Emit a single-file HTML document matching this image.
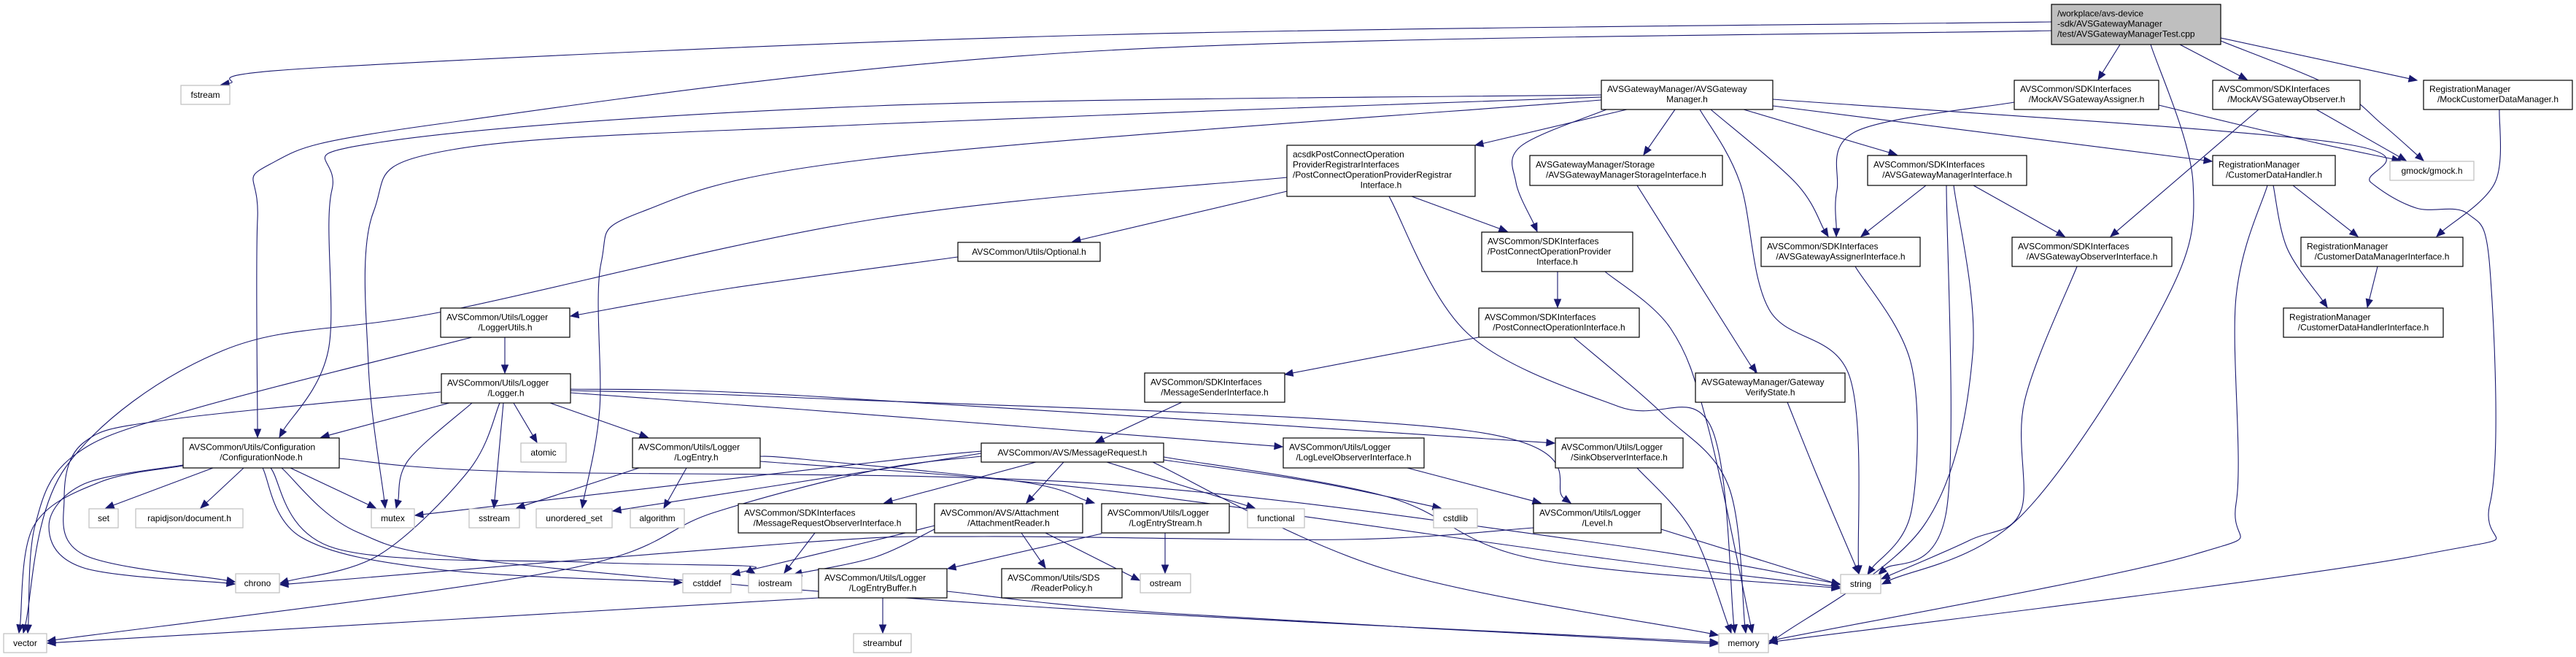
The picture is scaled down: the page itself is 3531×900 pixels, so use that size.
<!DOCTYPE html>
<html><head><meta charset="utf-8">
<style>
html,body{margin:0;padding:0;background:#fff;}
svg{display:block;}
text{font-family:"Liberation Sans",Arial,sans-serif;font-size:12px;fill:#000;}
.n rect{fill:#fff;stroke:#000;stroke-width:1.2;}
.g rect{fill:#fff;stroke:#bfbfbf;stroke-width:1.2;}
.t rect{fill:#bfbfbf;stroke:#000;stroke-width:1.2;}
</style></head>
<body>
<svg id="s" width="3531" height="900" viewBox="0 0 3531 900" xmlns="http://www.w3.org/2000/svg">
<g id="edges" fill="none" stroke="#191970" stroke-width="1.1"></g>
<g id="heads" fill="#191970" stroke="#191970" stroke-width="1"></g>
<g id="nodes">
<g class="t"><rect x="2812" y="6" width="232" height="55"/><text x="2820" y="22.5">/workplace/avs-device</text><text x="2820" y="36.5">-sdk/AVSGatewayManager</text><text x="2820" y="50.5">/test/AVSGatewayManagerTest.cpp</text></g>
<g class="g"><rect x="248" y="117" width="67" height="26"/><text x="281.5" y="134" text-anchor="middle">fstream</text></g>
<g class="n"><rect x="2195" y="110" width="235" height="40"/><text x="2203" y="126">AVSGatewayManager/AVSGateway</text><text x="2312.5" y="140" text-anchor="middle">Manager.h</text></g>
<g class="n"><rect x="2761" y="110" width="198" height="40"/><text x="2769" y="126">AVSCommon/SDKInterfaces</text><text x="2860" y="140" text-anchor="middle">/MockAVSGatewayAssigner.h</text></g>
<g class="n"><rect x="3033" y="110" width="202" height="40"/><text x="3041" y="126">AVSCommon/SDKInterfaces</text><text x="3134" y="140" text-anchor="middle">/MockAVSGatewayObserver.h</text></g>
<g class="n"><rect x="3322" y="110" width="204" height="40"/><text x="3330" y="126">RegistrationManager</text><text x="3424" y="140" text-anchor="middle">/MockCustomerDataManager.h</text></g>
<g class="n"><rect x="1764" y="199" width="258" height="70"/><text x="1772" y="215.5">acsdkPostConnectOperation</text><text x="1772" y="229.5">ProviderRegistrarInterfaces</text><text x="1772" y="243.5">/PostConnectOperationProviderRegistrar</text><text x="1893" y="257.5" text-anchor="middle">Interface.h</text></g>
<g class="n"><rect x="2097" y="213" width="264" height="41"/><text x="2105" y="229.5">AVSGatewayManager/Storage</text><text x="2229" y="243.5" text-anchor="middle">/AVSGatewayManagerStorageInterface.h</text></g>
<g class="n"><rect x="2560" y="213" width="218" height="41"/><text x="2568" y="229.5">AVSCommon/SDKInterfaces</text><text x="2669" y="243.5" text-anchor="middle">/AVSGatewayManagerInterface.h</text></g>
<g class="n"><rect x="3033" y="213" width="168" height="41"/><text x="3041" y="229.5">RegistrationManager</text><text x="3117" y="243.5" text-anchor="middle">/CustomerDataHandler.h</text></g>
<g class="g"><rect x="3276" y="221" width="115" height="26"/><text x="3333.5" y="238" text-anchor="middle">gmock/gmock.h</text></g>
<g class="n"><rect x="1313" y="332" width="195" height="26"/><text x="1410.5" y="349" text-anchor="middle">AVSCommon/Utils/Optional.h</text></g>
<g class="n"><rect x="2031" y="318" width="207" height="54"/><text x="2039" y="334.5">AVSCommon/SDKInterfaces</text><text x="2039" y="348.5">/PostConnectOperationProvider</text><text x="2134.5" y="362.5" text-anchor="middle">Interface.h</text></g>
<g class="n"><rect x="2414" y="325" width="218" height="40"/><text x="2422" y="341.5">AVSCommon/SDKInterfaces</text><text x="2523" y="355.5" text-anchor="middle">/AVSGatewayAssignerInterface.h</text></g>
<g class="n"><rect x="2758" y="325" width="219" height="40"/><text x="2766" y="341.5">AVSCommon/SDKInterfaces</text><text x="2867.5" y="355.5" text-anchor="middle">/AVSGatewayObserverInterface.h</text></g>
<g class="n"><rect x="3154" y="325" width="222" height="40"/><text x="3162" y="341.5">RegistrationManager</text><text x="3265" y="355.5" text-anchor="middle">/CustomerDataManagerInterface.h</text></g>
<g class="n"><rect x="604" y="422" width="177" height="40"/><text x="612" y="438.5">AVSCommon/Utils/Logger</text><text x="692.5" y="452.5" text-anchor="middle">/LoggerUtils.h</text></g>
<g class="n"><rect x="2027" y="422" width="220" height="40"/><text x="2035" y="438.5">AVSCommon/SDKInterfaces</text><text x="2137" y="452.5" text-anchor="middle">/PostConnectOperationInterface.h</text></g>
<g class="n"><rect x="3130" y="422" width="219" height="40"/><text x="3138" y="438.5">RegistrationManager</text><text x="3239.5" y="452.5" text-anchor="middle">/CustomerDataHandlerInterface.h</text></g>
<g class="n"><rect x="605" y="512" width="177" height="40"/><text x="613" y="528.5">AVSCommon/Utils/Logger</text><text x="693.5" y="542.5" text-anchor="middle">/Logger.h</text></g>
<g class="n"><rect x="1569" y="511" width="192" height="40"/><text x="1577" y="527.5">AVSCommon/SDKInterfaces</text><text x="1665" y="541.5" text-anchor="middle">/MessageSenderInterface.h</text></g>
<g class="n"><rect x="2324" y="511" width="205" height="40"/><text x="2332" y="527.5">AVSGatewayManager/Gateway</text><text x="2426.5" y="541.5" text-anchor="middle">VerifyState.h</text></g>
<g class="n"><rect x="251" y="600" width="214" height="41"/><text x="259" y="616.5">AVSCommon/Utils/Configuration</text><text x="358" y="630.5" text-anchor="middle">/ConfigurationNode.h</text></g>
<g class="g"><rect x="714" y="607" width="62" height="26"/><text x="745" y="624" text-anchor="middle">atomic</text></g>
<g class="n"><rect x="867" y="600" width="175" height="41"/><text x="875" y="616.5">AVSCommon/Utils/Logger</text><text x="954.5" y="630.5" text-anchor="middle">/LogEntry.h</text></g>
<g class="n"><rect x="1345" y="607" width="250" height="26"/><text x="1470" y="624" text-anchor="middle">AVSCommon/AVS/MessageRequest.h</text></g>
<g class="n"><rect x="1759" y="600" width="193" height="41"/><text x="1767" y="616.5">AVSCommon/Utils/Logger</text><text x="1855.5" y="630.5" text-anchor="middle">/LogLevelObserverInterface.h</text></g>
<g class="n"><rect x="2132" y="600" width="175" height="41"/><text x="2140" y="616.5">AVSCommon/Utils/Logger</text><text x="2219.5" y="630.5" text-anchor="middle">/SinkObserverInterface.h</text></g>
<g class="g"><rect x="122" y="697" width="40" height="26"/><text x="142" y="714" text-anchor="middle">set</text></g>
<g class="g"><rect x="186" y="697" width="147" height="26"/><text x="259.5" y="714" text-anchor="middle">rapidjson/document.h</text></g>
<g class="g"><rect x="509" y="697" width="59" height="26"/><text x="538.5" y="714" text-anchor="middle">mutex</text></g>
<g class="g"><rect x="643" y="697" width="69" height="26"/><text x="677.5" y="714" text-anchor="middle">sstream</text></g>
<g class="g"><rect x="735" y="697" width="104" height="26"/><text x="787" y="714" text-anchor="middle">unordered_set</text></g>
<g class="g"><rect x="864" y="697" width="74" height="26"/><text x="901" y="714" text-anchor="middle">algorithm</text></g>
<g class="n"><rect x="1012" y="690" width="244" height="40"/><text x="1020" y="706.5">AVSCommon/SDKInterfaces</text><text x="1134" y="720.5" text-anchor="middle">/MessageRequestObserverInterface.h</text></g>
<g class="n"><rect x="1281" y="690" width="203" height="40"/><text x="1289" y="706.5">AVSCommon/AVS/Attachment</text><text x="1382.5" y="720.5" text-anchor="middle">/AttachmentReader.h</text></g>
<g class="n"><rect x="1510" y="690" width="175" height="40"/><text x="1518" y="706.5">AVSCommon/Utils/Logger</text><text x="1597.5" y="720.5" text-anchor="middle">/LogEntryStream.h</text></g>
<g class="g"><rect x="1710" y="697" width="78" height="26"/><text x="1749" y="714" text-anchor="middle">functional</text></g>
<g class="g"><rect x="1965" y="697" width="60" height="26"/><text x="1995" y="714" text-anchor="middle">cstdlib</text></g>
<g class="n"><rect x="2102" y="690" width="175" height="40"/><text x="2110" y="706.5">AVSCommon/Utils/Logger</text><text x="2189.5" y="720.5" text-anchor="middle">/Level.h</text></g>
<g class="g"><rect x="323" y="786" width="60" height="26"/><text x="353" y="803" text-anchor="middle">chrono</text></g>
<g class="g"><rect x="936" y="786" width="66" height="26"/><text x="969" y="803" text-anchor="middle">cstddef</text></g>
<g class="g"><rect x="1026" y="786" width="73" height="26"/><text x="1062.5" y="803" text-anchor="middle">iostream</text></g>
<g class="n"><rect x="1122" y="779" width="176" height="40"/><text x="1130" y="795.5">AVSCommon/Utils/Logger</text><text x="1210" y="809.5" text-anchor="middle">/LogEntryBuffer.h</text></g>
<g class="n"><rect x="1373" y="779" width="165" height="40"/><text x="1381" y="795.5">AVSCommon/Utils/SDS</text><text x="1455.5" y="809.5" text-anchor="middle">/ReaderPolicy.h</text></g>
<g class="g"><rect x="1563" y="786" width="69" height="26"/><text x="1597.5" y="803" text-anchor="middle">ostream</text></g>
<g class="g"><rect x="2523" y="787" width="55" height="26"/><text x="2550.5" y="804" text-anchor="middle">string</text></g>
<g class="g"><rect x="5" y="868" width="59" height="26"/><text x="34.5" y="885" text-anchor="middle">vector</text></g>
<g class="g"><rect x="1170" y="868" width="79" height="26"/><text x="1209.5" y="885" text-anchor="middle">streambuf</text></g>
<g class="g"><rect x="2356" y="868" width="68" height="26"/><text x="2390" y="885" text-anchor="middle">memory</text></g>
</g>
</svg>
<script>
(function(){
var E=[
[[2812,30],[1500,48],[450,92],[303,116]],
[[2812,42],[1500,70],[600,170],[370,225],[353,300],[353,599]],
[[2195,130],[1200,145],[520,195],[455,260],[450,480],[383,599]],
[[2195,133],[1200,170],[620,205],[512,290],[505,500],[528,696]],
[[2195,137],[1200,217],[880,290],[824,360],[822,560],[798,696]],
[[1764,243],[1200,300],[612,426],[306,480],[90,640],[32,867]],
[[1764,262],[1470,331]],
[[1313,352],[1000,395],[782,433]],
[[647,462],[252,564],[100,625],[48,720],[38,867]],
[[692,462],[692,511]],
[[616,552],[440,599]],
[[647,552],[560,630],[543,696]],
[[685,552],[643,644],[520,760],[384,799]],
[[690,552],[677,696]],
[[704,552],[736,606]],
[[754,552],[888,599]],
[[782,538],[1100,561],[1758,612]],
[[782,533],[1100,542],[2131,607]],
[[782,535],[1100,545],[2012,590],[2153,689]],
[[604,537],[230,575],[115,606],[88,683],[115,760],[322,797]],
[[251,637],[115,663],[67,721],[115,778],[322,800]],
[[251,638],[138,660],[46,721],[26,867]],
[[292,641],[145,696]],
[[334,641],[275,696]],
[[398,641],[515,696]],
[[465,628],[700,646],[1500,662],[2200,745],[2522,800]],
[[360,641],[413,736],[600,780],[935,798]],
[[371,641],[459,751],[800,770],[1018,775],[1035,786]],
[[386,641],[490,729],[689,771],[1400,830],[2355,880]],
[[876,641],[708,696]],
[[941,641],[910,696]],
[[1042,625],[1100,629],[1400,660],[1500,689]],
[[1042,632],[1500,670],[2200,765],[2522,804]],
[[1620,551],[1502,606]],
[[2027,462],[1761,513]],
[[2157,462],[2277,565],[2369,665],[2393,867]],
[[2135,372],[2135,421]],
[[2200,372],[2290,450],[2340,580],[2402,867]],
[[1935,269],[2066,317]],
[[1904,269],[2012,457],[2219,557],[2344,582],[2378,867]],
[[2230,150],[2022,199]],
[[2296,150],[2253,212]],
[[2202,150],[2085,200],[2078,250],[2107,317]],
[[2345,150],[2461,250],[2506,324]],
[[2390,150],[2600,212]],
[[2430,145],[3032,221]],
[[2330,150],[2385,250],[2425,424],[2535,515],[2548,786]],
[[2430,136],[3200,195],[3250,250],[3312,285],[3383,293],[3413,368],[3413,690],[3320,760],[2425,880]],
[[2906,61],[2876,109]],
[[2988,61],[3080,109]],
[[3044,52],[3313,110]],
[[3044,56],[3200,120],[3265,170],[3322,220]],
[[2948,61],[3006,250],[2967,415],[2771,706],[2580,800]],
[[2761,140],[2544,180],[2518,260],[2517,324]],
[[2959,144],[3150,190],[3290,220]],
[[3096,150],[2893,324]],
[[3175,150],[3298,220]],
[[3426,150],[3420,250],[3340,324]],
[[2640,254],[2551,324]],
[[2705,254],[2830,324]],
[[2668,254],[2668,700],[2575,787]],
[[2678,254],[2704,485],[2637,720],[2425,882]],
[[2543,365],[2620,500],[2620,700],[2560,787]],
[[2847,365],[2775,550],[2770,700],[2700,740],[2579,793]],
[[3143,254],[3232,324]],
[[3116,254],[3135,340],[3190,421]],
[[3108,254],[3065,407],[3065,690],[3006,760],[2425,878]],
[[3259,365],[3245,421]],
[[2244,254],[2393,490],[2408,510]],
[[2450,551],[2490,650],[2548,786]],
[[2244,641],[2319,727],[2373,867]],
[[1929,641],[2112,689]],
[[2277,725],[2522,801]],
[[2102,723],[1846,739],[1349,735],[1100,743],[384,801]],
[[1420,633],[1212,689]],
[[1458,633],[1407,689]],
[[1517,633],[1720,696]],
[[1595,630],[1800,660],[1975,696]],
[[1595,626],[1900,680],[2100,765],[2522,806]],
[[1580,633],[1900,780],[2355,870]],
[[1345,618],[1200,633],[569,706]],
[[1345,625],[1200,644],[979,702],[765,782],[65,878]],
[[1345,621],[1200,644],[840,700]],
[[1117,730],[1075,785]],
[[1281,725],[1200,763],[1088,787]],
[[1281,720],[1200,740],[1003,787]],
[[1400,730],[1433,778]],
[[1433,730],[1562,795]],
[[1510,731],[1299,779]],
[[1597,730],[1597,785]],
[[1122,819],[65,881]],
[[1210,819],[1210,867]],
[[1298,810],[1600,840],[2355,882]]
];
var ns="http://www.w3.org/2000/svg";
var eg=document.getElementById("edges"),hg=document.getElementById("heads");
var L=11,W=4.5;
E.forEach(function(p){
 var n=p.length,a=p[n-2],b=p[n-1];
 var dx=b[0]-a[0],dy=b[1]-a[1];
 if(n>2){ // tangent from catmull
   var pm=p[n-2];dx=b[0]-pm[0];dy=b[1]-pm[1];
 }
 var d=Math.sqrt(dx*dx+dy*dy)||1;dx/=d;dy/=d;
 var end=[b[0]-dx*L,b[1]-dy*L];
 var q=p.slice();q[n-1]=end;
 var s="M"+q[0][0]+","+q[0][1];
 if(n==2){s+="L"+end[0]+","+end[1];}
 else{
  for(var i=0;i<n-1;i++){
   var p0=q[i>0?i-1:0],p1=q[i],p2=q[i+1],p3=q[i+2<n?i+2:n-1];
   var c1=[p1[0]+(p2[0]-p0[0])/6,p1[1]+(p2[1]-p0[1])/6];
   var c2=[p2[0]-(p3[0]-p1[0])/6,p2[1]-(p3[1]-p1[1])/6];
   s+="C"+c1[0].toFixed(1)+","+c1[1].toFixed(1)+" "+c2[0].toFixed(1)+","+c2[1].toFixed(1)+" "+p2[0].toFixed(1)+","+p2[1].toFixed(1);
  }
 }
 var pa=document.createElementNS(ns,"path");pa.setAttribute("d",s);eg.appendChild(pa);
 var px=-dy,py=dx;
 var tri=document.createElementNS(ns,"polygon");
 tri.setAttribute("points",b[0]+","+b[1]+" "+(end[0]+px*W).toFixed(1)+","+(end[1]+py*W).toFixed(1)+" "+(end[0]-px*W).toFixed(1)+","+(end[1]-py*W).toFixed(1));
 hg.appendChild(tri);
});
})();
</script>
</body></html>
